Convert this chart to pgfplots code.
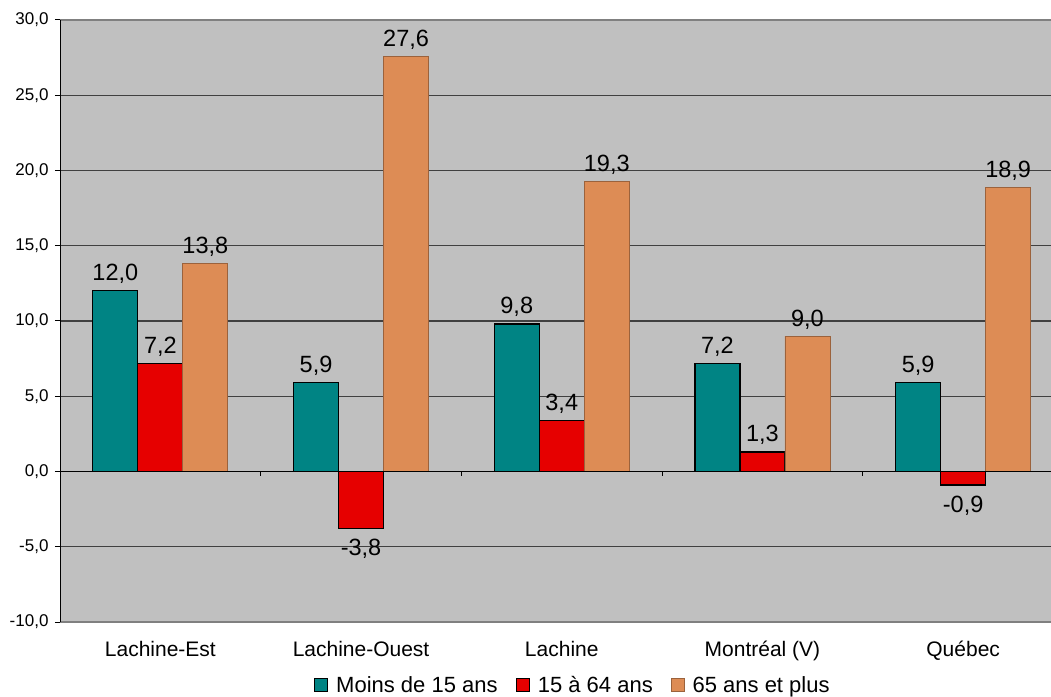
\documentclass[border=0pt]{standalone}
\usepackage{pgfplots}
\pgfplotsset{compat=1.18}
\usepackage{fontspec}
\setmainfont{Liberation Sans}
\definecolor{bg}{HTML}{C0C0C0}
\definecolor{tealA}{HTML}{008484}
\definecolor{redA}{HTML}{E60000}
\definecolor{orangeA}{HTML}{DD8C55}
\pgfplotstableread{
x a b c
0 12.0 7.2 13.8
1 5.9 -3.8 27.6
2 9.8 3.4 19.3
3 7.2 1.3 9.0
4 5.9 -0.9 18.9
}\datatable
\begin{document}
\begin{tikzpicture}
\begin{axis}[
  at={(60pt,74pt)}, anchor=south west,
  x=200.7pt, y=15.05pt,
  xmin=-0.5, xmax=4.5, ymin=-10, ymax=30,
  ybar=0pt, bar width=45pt,
  axis background/.style={fill=bg},
  axis line style={draw=none},
  ymajorgrids, major grid style={draw=black!75, line width=1.2pt},
  ytick={-10,-5,...,30},
  xtick={0,1,2,3,4},
  xticklabels={Lachine-Est, Lachine-Ouest, Lachine, Montréal (V), Québec},
  xtick style={draw=none},
  ytick style={draw=black, line width=1pt},
  tick align=outside, major tick length=5pt,
  /pgf/number format/fixed, /pgf/number format/fixed zerofill,
  /pgf/number format/precision=1, /pgf/number format/use comma,
  /pgf/number format/assume math mode=true,
  yticklabel style={font=\fontsize{17}{20}\selectfont, xshift=-3pt},
  xticklabel style={font=\fontsize{21}{24}\selectfont, yshift=-11pt},
  nodes near coords,
  nodes near coords align={vertical},
  visualization depends on={rawy \as \yv},
  every node near coord/.append style={font=\fontsize{23.5}{27}\selectfont, text=black,
     inner sep=0pt, yshift={ifthenelse(\yv<0,-10,6.5)}},
  legend style={at={(0.511,-0.105)}, anchor=center, draw=none, fill=none,
    legend columns=-1, font=\fontsize{22}{25}\selectfont,
    /tikz/every odd column/.append style={column sep=6pt},
    /tikz/every even column/.append style={column sep=16pt},
    inner sep=0pt},
  legend image code/.code={\fill[#1] (0pt,-6.5pt) rectangle (13pt,6.5pt);},
]
\addplot[fill=tealA, draw=black, line width=1.2pt] table[x=x,y=a]{\datatable};
\addplot[fill=redA, draw=black, line width=1.2pt] table[x=x,y=b]{\datatable};
\addplot[fill=orangeA, draw=orangeA!70!black, line width=0.8pt] table[x=x,y=c]{\datatable};
\legend{Moins de 15 ans, 15 à 64 ans, 65 ans et plus}
\draw[black, line width=1.6pt] (axis cs:-0.5,0) -- (axis cs:4.5,0);
\pgfplotsinvokeforeach{0.5,1.5,2.5,3.5}{
  \draw[black, line width=1pt] (axis cs:#1,0) -- ++(0pt,-5pt);
}
\draw[gray, line width=2pt] (rel axis cs:0,1) -- (rel axis cs:1,1);
\draw[gray, line width=2pt] (rel axis cs:0,0) -- (rel axis cs:1,0);
\draw[black, line width=2pt] (rel axis cs:0,0) -- (rel axis cs:0,1);
\end{axis}
\pgfresetboundingbox
\path[use as bounding box] (0pt,0pt) rectangle (1051pt,696pt);
\end{tikzpicture}
\end{document}
